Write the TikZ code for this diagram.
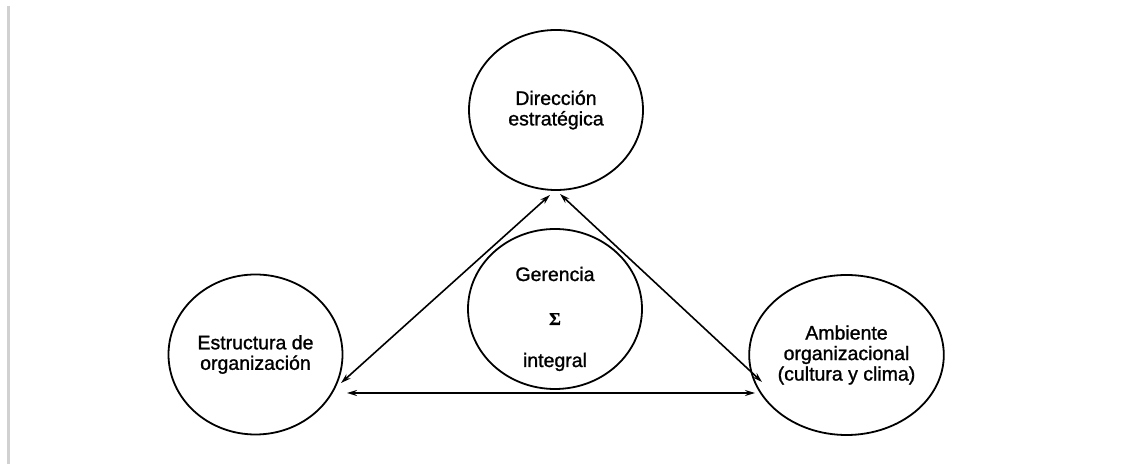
\documentclass[tikz,border=0pt]{standalone}
\usepackage{fontspec}
\setmainfont{Liberation Sans}
\newfontfamily\medfont{Liberation Sans}[FakeBold=1.2]
\newfontfamily\sigfont{Liberation Serif}[FakeBold=0.8]
\usetikzlibrary{shapes.geometric,arrows.meta,calc}
\begin{document}
\begin{tikzpicture}[x=1pt,y=1pt,
  blob/.style={ellipse,draw,line width=1.8pt,minimum width=174pt,minimum height=160pt,inner sep=0pt,align=center,font=\fontsize{19.5}{20.5}\medfont},
  link/.style={line width=1.6pt,{Stealth[length=10pt,width=6pt]}-{Stealth[length=10pt,width=6pt]}},
  lbl/.style={font=\fontsize{19.5}{20.5}\medfont,anchor=base,inner sep=0pt}]
\useasboundingbox (0,0) rectangle (1131,465);
\draw[line width=3pt,color=black!18] (8.5,459) -- (8.5,1);

\node[blob] (top) at (556,355) {Dirección\\estratégica};
\node[blob] (left) at (255.5,110.5) {Estructura de\\organización};
\node[blob] (right) at (846.5,110) {Ambiente\\organizacional\\(cultura y clima)};
\node[blob] (mid) at (555,156) {};

\node[lbl] (g1) at ($(mid.center)+(0,28)$) {Gerencia};
\node[lbl,font=\fontsize{18}{18}\sigfont\bfseries] (g2) at ($(mid.center)+(0,-16)$) {Σ};
\node[lbl] (g3) at ($(mid.center)+(0,-58)$) {integral};

\coordinate (a1) at ($(left.center)+(85.5,-28.5)$);
\coordinate (a2) at ($(top.center)+(-6,-85)$);
\coordinate (b1) at ($(top.center)+(4,-84)$);
\coordinate (b2) at ($(right.center)+(-84.5,-27)$);
\coordinate (c1) at ($(left.center)+(91.5,-38.5)$);
\coordinate (c2) at ($(right.center)+(-91.5,-38)$);

\draw[link] (a1) -- (a2);
\draw[link] (b1) -- (b2);
\draw[link] (c1) -- (c2);
\end{tikzpicture}
\end{document}
